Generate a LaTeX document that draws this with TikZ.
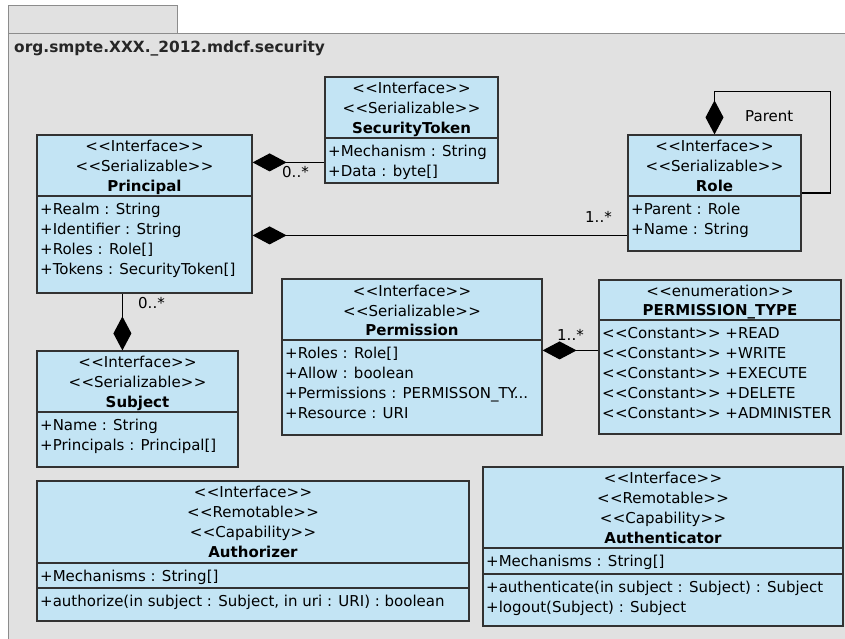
\documentclass[tikz,border=0pt]{standalone}
\usepackage{fontspec}
\setmainfont{DejaVu Sans}
\usetikzlibrary{arrows.meta,calc,fit}
\definecolor{pkgfill}{RGB}{225,225,225}
\definecolor{pkgline}{RGB}{140,140,140}
\definecolor{clsfill}{RGB}{195,228,244}
\definecolor{clsline}{RGB}{50,50,50}
% stereotype brackets, kept apart so they stay two separate signs
\newcommand\stereo[1]{<\kern0.4pt<#1>\kern0.4pt>}
\tikzset{
  cls/.style={draw=clsline, fill=clsfill, line width=1.2pt, inner sep=0pt, rectangle},
  div/.style={draw=clsline, line width=1.2pt},
  txt/.style={inner sep=0pt, font=\fontsize{15}{18}\selectfont, anchor=base},
  ttl/.style={inner sep=0pt, font=\fontsize{15}{18}\selectfont\bfseries, anchor=base},
  att/.style={txt, anchor=base west},
  mult/.style={txt, anchor=base west},
  comp/.style={draw=black, line width=1.2pt, {Diamond[length=34pt,width=18pt]}-},
}
\begin{document}
\begin{tikzpicture}[x=1pt,y=-1pt]
\useasboundingbox (0,0) rectangle (845,638);
\fill[white] (0,0) rectangle (845,638);
% package tab and body
\filldraw[fill=pkgfill, draw=pkgline, line width=1pt] (8,5) rectangle (177,33);
\filldraw[fill=pkgfill, draw=pkgline, line width=1pt] (8,33) rectangle (870,660);
\node[inner sep=0pt, anchor=base west, font=\fontsize{15.4}{18}\selectfont\bfseries, text=black!85] (pkgname) at (14,52) {org.smpte.XXX.\_2012.mdcf.security};

% ---- Principal
\node[cls, fit={(37,135) (252,293)}] (prin) {};
\draw[div] (prin.west |- 0,196) -- (prin.east |- 0,196);
\node[txt] (prin-s1) at (144.5,151) {\stereo{Interface}};
\node[txt] (prin-s2) at (144.5,171) {\stereo{Serializable}};
\node[ttl] (prin-n) at (144.5,191) {Principal};
\node[att] (prin-a1) at (40,214) {+Realm : String};
\node[att] (prin-a2) at (40,234) {+Identifier : String};
\node[att] (prin-a3) at (40,254) {+Roles : Role[]};
\node[att] (prin-a4) at (40,274) {+Tokens : SecurityToken[]};

% ---- SecurityToken
\node[cls, fit={(325,77) (498,183)}] (tok) {};
\draw[div] (tok.west |- 0,138) -- (tok.east |- 0,138);
\node[txt] (tok-s1) at (411.5,93) {\stereo{Interface}};
\node[txt] (tok-s2) at (411.5,113) {\stereo{Serializable}};
\node[ttl] (tok-n) at (411.5,133) {SecurityToken};
\node[att] (tok-a1) at (328,156) {+Mechanism : String};
\node[att] (tok-a2) at (328,176) {+Data : byte[]};

% ---- Role
\node[cls, fit={(628,135) (801,251)}] (role) {};
\draw[div] (role.west |- 0,196) -- (role.east |- 0,196);
\node[txt] (role-s1) at (714.5,151) {\stereo{Interface}};
\node[txt] (role-s2) at (714.5,171) {\stereo{Serializable}};
\node[ttl] (role-n) at (714.5,191) {Role};
\node[att] (role-a1) at (631,214) {+Parent : Role};
\node[att] (role-a2) at (631,234) {+Name : String};

% ---- Permission
\node[cls, fit={(282,279) (542,435)}] (perm) {};
\draw[div] (perm.west |- 0,340) -- (perm.east |- 0,340);
\node[txt] (perm-s1) at (412,296) {\stereo{Interface}};
\node[txt] (perm-s2) at (412,316) {\stereo{Serializable}};
\node[ttl] (perm-n) at (412,335) {Permission};
\node[att] (perm-a1) at (285,358) {+Roles : Role[]};
\node[att] (perm-a2) at (285,378) {+Allow : boolean};
\node[att] (perm-a3) at (285,398) {+Permissions : PERMISSON\_TY...};
\node[att] (perm-a4) at (285,418) {+Resource : URI};

% ---- PERMISSION_TYPE
\node[cls, fit={(599,280) (841,434)}] (ptype) {};
\draw[div] (ptype.west |- 0,320) -- (ptype.east |- 0,320);
\node[txt] (ptype-s1) at (720,296) {\stereo{enumeration}};
\node[ttl] (ptype-n) at (720,315) {PERMISSION\_TYPE};
\node[att] (ptype-a1) at (602,338) {\stereo{Constant} +READ};
\node[att] (ptype-a2) at (602,358) {\stereo{Constant} +WRITE};
\node[att] (ptype-a3) at (602,378) {\stereo{Constant} +EXECUTE};
\node[att] (ptype-a4) at (602,398) {\stereo{Constant} +DELETE};
\node[att] (ptype-a5) at (602,418) {\stereo{Constant} +ADMINISTER};

% ---- Subject
\node[cls, fit={(37,351) (238,467)}] (subj) {};
\draw[div] (subj.west |- 0,412) -- (subj.east |- 0,412);
\node[txt] (subj-s1) at (137.5,367) {\stereo{Interface}};
\node[txt] (subj-s2) at (137.5,387) {\stereo{Serializable}};
\node[ttl] (subj-n) at (137.5,407) {Subject};
\node[att] (subj-a1) at (40,430) {+Name : String};
\node[att] (subj-a2) at (40,450) {+Principals : Principal[]};

% ---- Authorizer
\node[cls, fit={(37,481) (469,621)}] (authz) {};
\draw[div] (authz.west |- 0,563) -- (authz.east |- 0,563);
\draw[div] (authz.west |- 0,588) -- (authz.east |- 0,588);
\node[txt] (authz-s1) at (253,497) {\stereo{Interface}};
\node[txt] (authz-s2) at (253,517) {\stereo{Remotable}};
\node[txt] (authz-s3) at (253,537) {\stereo{Capability}};
\node[ttl] (authz-n) at (253,557) {Authorizer};
\node[att] (authz-a1) at (40,581) {+Mechanisms : String[]};
\node[att] (authz-o1) at (40,606) {+authorize(in subject : Subject, in uri : URI) : boolean};

% ---- Authenticator
\node[cls, fit={(483,467) (843,626)}] (authn) {};
\draw[div] (authn.west |- 0,548) -- (authn.east |- 0,548);
\draw[div] (authn.west |- 0,574) -- (authn.east |- 0,574);
\node[txt] (authn-s1) at (663,483) {\stereo{Interface}};
\node[txt] (authn-s2) at (663,503) {\stereo{Remotable}};
\node[txt] (authn-s3) at (663,523) {\stereo{Capability}};
\node[ttl] (authn-n) at (663,543) {Authenticator};
\node[att] (authn-a1) at (486,566) {+Mechanisms : String[]};
\node[att] (authn-o1) at (486,592) {+authenticate(in subject : Subject) : Subject};
\node[att] (authn-o2) at (486,612) {+logout(Subject) : Subject};

% ---- compositions
\draw[comp] ($(prin.north east)+(0,28)$) coordinate (pt-a) -- (pt-a -| tok.west);
\draw[comp] ($(prin.north east)+(0,101)$) coordinate (pr-a) -- (pr-a -| role.west);
\draw[comp] (role.north) -- ++(0,-43) -| ($(role.east)+(29,0)$) -- (role.east);
\draw[comp] ($(subj.north west)+(86,0)$) coordinate (ps-a) -- (ps-a |- prin.south);
\draw[comp] ($(perm.north east)+(0,72)$) coordinate (pp-a) -- (pp-a -| ptype.west);

% ---- multiplicities and role names
\node[mult] (m-tok) at (282,177) {0..*};
\node[mult] (m-role) at (585,222) {1..*};
\node[mult] (m-parent) at (745,121) {Parent};
\node[mult] (m-subj) at (138,308) {0..*};
\node[mult] (m-perm) at (557,340) {1..*};
\end{tikzpicture}
\end{document}
